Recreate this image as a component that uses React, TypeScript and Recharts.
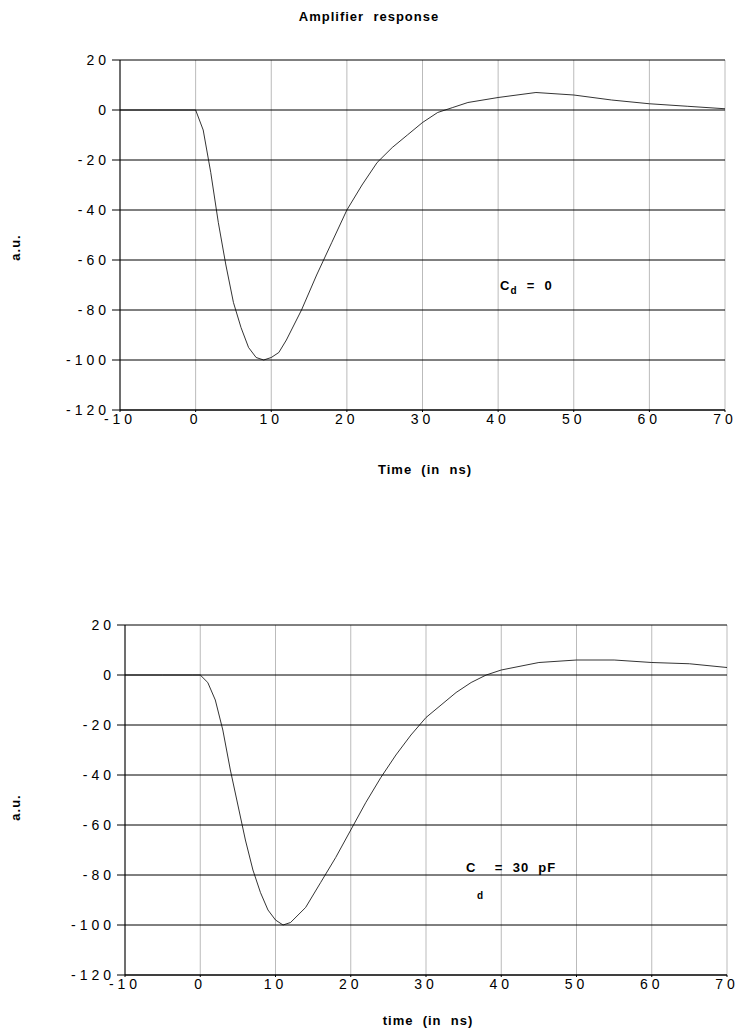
import React from "react";
import { LineChart, Line, XAxis, YAxis, CartesianGrid } from "recharts";

const xTicks = [-10, 0, 10, 20, 30, 40, 50, 60, 70];
const yTicks = [-120, -100, -80, -60, -40, -20, 0, 20];

const timeA = [-10, -5, -1, 0, 1, 2, 3, 4, 5, 6, 7, 8, 9, 10, 11, 12, 14, 16, 18, 20, 22, 24, 26, 28, 30, 32, 34, 36, 40, 45, 50, 55, 60, 65, 70];
const respA = [0, 0, 0, 0, -8, -25, -45, -62, -77, -87, -95, -99, -100, -99, -97, -92, -80, -66, -53, -40, -30, -21, -15, -10, -5, -1, 1, 3, 5, 7, 6, 4, 2.5, 1.5, 0.5];

const timeB = [-10, -5, -1, 0, 1, 2, 3, 4, 5, 6, 7, 8, 9, 10, 11, 12, 14, 16, 18, 20, 22, 24, 26, 28, 30, 32, 34, 36, 38, 40, 45, 50, 55, 60, 65, 70];
const respB = [0, 0, 0, 0, -3, -10, -22, -38, -52, -66, -78, -87, -94, -98, -100, -99, -93, -83, -73, -62, -51, -41, -32, -24, -17, -12, -7, -3, 0, 2, 5, 6, 6, 5, 4.5, 3];

const build = (xs: number[], ys: number[]) => xs.map((t, i) => ({ t, v: ys[i] }));

const FONT = "'Liberation Sans', Arial, sans-serif";
const tickStyle = { fontFamily: FONT, fontSize: 14, fill: "#000", letterSpacing: 4 };
const fmt = (v: number) => String(v);

function Panel({ data, top, ml, mt, mr }: { data: { t: number; v: number }[]; top: number; ml: number; mt: number; mr: number }) {
  return (
    <div style={{ position: "absolute", left: 0, top }}>
      <LineChart width={738} height={480} data={data} margin={{ top: mt, left: ml, right: mr, bottom: 480 - mt - 350 - 30 }}>
        <CartesianGrid horizontal={false} stroke="#bbb" />
        <CartesianGrid vertical={false} stroke="#000" />
        <XAxis type="number" dataKey="t" domain={[-10, 70]} ticks={xTicks} tickFormatter={fmt} tick={tickStyle} stroke="#000" height={30} tickSize={2} />
        <YAxis type="number" domain={[-120, 20]} ticks={yTicks} tickFormatter={fmt} tick={tickStyle} stroke="#000" width={60} tickSize={8} />
        <Line type="linear" dataKey="v" stroke="#000" strokeWidth={0.8} dot={false} isAnimationActive={false} />
      </LineChart>
    </div>
  );
}

const bold: React.CSSProperties = { position: "absolute", fontFamily: FONT, fontWeight: "bold", fontSize: 13, color: "#000", letterSpacing: 1, whiteSpace: "pre" };

export default function App() {
  return (
    <div style={{ position: "absolute", left: 0, top: 0, width: 738, height: 1036, background: "#fff" }}>
      <div style={{ ...bold, top: 9, left: 0, width: 738, textAlign: "center", paddingLeft: 0 }}>Amplifier  response</div>
      <Panel data={build(timeA, respA)} top={0} ml={60} mt={60} mr={13} />
      <Panel data={build(timeB, respB)} top={565} ml={65} mt={60} mr={11} />
      <div style={{ ...bold, top: 462, left: 325, width: 200, textAlign: "center" }}>Time  (in  ns)</div>
      <div style={{ ...bold, top: 1013, left: 328, width: 200, textAlign: "center" }}>time  (in  ns)</div>
      <div style={{ ...bold, top: 240, left: 2, transform: "rotate(-90deg)" }}>a.u.</div>
      <div style={{ ...bold, top: 800, left: 2, transform: "rotate(-90deg)" }}>a.u.</div>
      <div style={{ ...bold, top: 278, left: 500 }}>C<sub style={{ fontSize: 10 }}>d</sub>  =  0</div>
      <div style={{ ...bold, top: 860, left: 466 }}>C    =  30  pF</div>
      <div style={{ ...bold, top: 890, left: 477, fontSize: 10 }}>d</div>
    </div>
  );
}
